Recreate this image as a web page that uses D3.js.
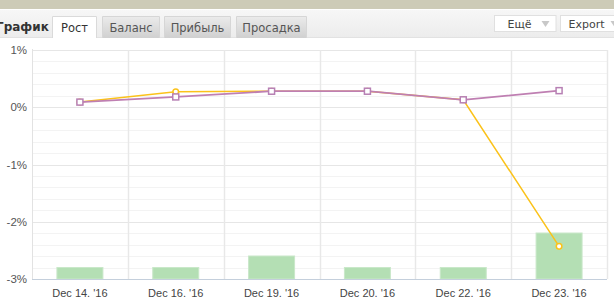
<!DOCTYPE html>
<html><head><meta charset="utf-8">
<script src="https://cdn.jsdelivr.net/npm/d3@7/dist/d3.min.js"></script>
<style>
html,body{margin:0;padding:0;background:#fff;}
svg{display:block;}
</style></head>
<body><svg id="c" width="614" height="298"></svg>
<script>
const categories = ["Dec 14. '16","Dec 16. '16","Dec 19. '16","Dec 20. '16","Dec 22. '16","Dec 23. '16"];
const growthPurple = [0.09, 0.18, 0.28, 0.28, 0.13, 0.29];
const growthYellow = [0.09, 0.27, 0.28, 0.28, 0.13, -2.43];
const barValues = [1, 1, 2, 1, 1, 4];
const yTicks = [1, 0, -1, -2, -3];
const yTickLabels = ["1%", "0%", "-1%", "-2%", "-3%"];
const tabs = ["Рост", "Баланс", "Прибыль", "Просадка"];
const titleText = "График";
const buttons = ["Ещё", "Export"];

(function(){
const svg = d3.select("#c");
const font = "DejaVu Sans, Verdana, sans-serif";
const afont = "Liberation Sans, Arial, sans-serif";

// ---- header ----
const defs = svg.append("defs");
const g1 = defs.append("linearGradient").attr("id","tabg").attr("x1",0).attr("y1",0).attr("x2",0).attr("y2",1);
g1.append("stop").attr("offset","0%").attr("stop-color","#ebebeb");
g1.append("stop").attr("offset","100%").attr("stop-color","#d0d0d0");
const g2 = defs.append("linearGradient").attr("id","barbg").attr("x1",0).attr("y1",0).attr("x2",0).attr("y2",1);
g2.append("stop").attr("offset","0%").attr("stop-color","#f7f7f7");
g2.append("stop").attr("offset","100%").attr("stop-color","#ececec");

svg.append("rect").attr("x",0).attr("y",0).attr("width",614).attr("height",9).attr("fill","#cdcbb7");
svg.append("rect").attr("x",0).attr("y",9).attr("width",614).attr("height",29).attr("fill","url(#barbg)");
svg.append("rect").attr("x",0).attr("y",9).attr("width",614).attr("height",1).attr("fill","#ffffff");
svg.append("line").attr("x1",0).attr("x2",614).attr("y1",37.5).attr("y2",37.5).attr("stroke","#e2e2e2");

svg.append("text").attr("x",-4).attr("y",31).attr("font-family",font).attr("font-size",12)
  .attr("font-weight","bold").attr("fill","#333").text(titleText);

const tabX = [52.5, 102.5, 164.5, 236.5];
const tabW = [44, 57, 66, 70];
tabs.forEach((t,i)=>{
  const active = i===0;
  svg.append("path")
    .attr("d",`M${tabX[i]},38 V16.5 H${tabX[i]+tabW[i]} V38`)
    .attr("fill", active ? "#ffffff" : "url(#tabg)")
    .attr("stroke", active ? "#dadada" : "#d6d6d6");
  svg.append("text").attr("x",tabX[i]+tabW[i]/2).attr("y",32).attr("text-anchor","middle")
    .attr("font-family",font).attr("font-size",11.5).attr("fill", active ? "#333" : "#555").text(t);
});
svg.append("rect").attr("x",53).attr("y",37).attr("width",43).attr("height",2).attr("fill","#fff");

const btnX = [494.5, 560.5], btnW = [61.5, 60];
buttons.forEach((b,i)=>{
  svg.append("rect").attr("x",btnX[i]).attr("y",15.5).attr("width",btnW[i]).attr("height",16)
    .attr("fill","#fff").attr("stroke","#e0e0e0");
  svg.append("text").attr("x",btnX[i]+(i===0?13:8)).attr("y",28).attr("font-family",font).attr("font-size",11)
    .attr("fill","#444").text(b);
  const ax = btnX[i] + (i===0?47:50);
  svg.append("path").attr("d",`M${ax},21 h8 l-4,6 z`).attr("fill","#c8c8c8");
});

// ---- chart ----
const pl = 32, pr = 607, pt = 50, pb = 279;
const x = d3.scaleBand().domain(categories).range([pl, pr]).paddingInner(0).paddingOuter(0);
const y = d3.scaleLinear().domain([-3, 1]).range([pb, pt]);
const yBar = d3.scaleLinear().domain([0, 20]).range([pb, pt - 1]);

const minor = d3.range(-3, 1.0001, 0.2).map(v=>+v.toFixed(1)).filter(v=>!Number.isInteger(v));
svg.append("g").selectAll("line").data(minor).join("line")
  .attr("x1",pl).attr("x2",pr).attr("y1",d=>Math.round(y(d))+0.5).attr("y2",d=>Math.round(y(d))+0.5)
  .attr("stroke","#f3f3f3");
svg.append("g").selectAll("line").data(yTicks).join("line")
  .attr("x1",pl).attr("x2",pr).attr("y1",d=>Math.round(y(d))+0.5).attr("y2",d=>Math.round(y(d))+0.5)
  .attr("stroke","#e6e6e6");
const vx = categories.slice(1).map(c=>x(c)).concat([pr]);
svg.append("g").selectAll("line").data(vx).join("line")
  .attr("x1",d=>Math.round(d)+0.5).attr("x2",d=>Math.round(d)+0.5).attr("y1",pt).attr("y2",pb)
  .attr("stroke","#e8e8e8").attr("stroke-width",1.5);
svg.append("line").attr("x1",pl+0.5).attr("x2",pl+0.5).attr("y1",pt-1).attr("y2",pb)
  .attr("stroke","#e2e2e2");

const yAxis = d3.axisLeft(y).tickValues(yTicks).tickFormat((d,i)=>yTickLabels[i]).tickSize(0).tickPadding(5);
const ya = svg.append("g").attr("transform",`translate(${pl},0)`).call(yAxis);
ya.select(".domain").remove();
ya.selectAll("text").attr("font-family",afont).attr("font-size",11.5).attr("fill","#555");

const bw = 46;
svg.append("g").selectAll("rect").data(barValues).join("rect")
  .attr("x",(d,i)=>x(categories[i])+x.bandwidth()/2-bw/2)
  .attr("y",d=>yBar(d))
  .attr("width",bw).attr("height",d=>pb-yBar(d))
  .attr("fill","#b4dfb4").attr("stroke","#c9e8c9").attr("stroke-width",1);

const xAxis = d3.axisBottom(x).tickSize(0).tickPadding(10);
const xa = svg.append("g").attr("transform",`translate(0,${pb})`).call(xAxis);
xa.select(".domain").attr("stroke","#c4cfdc").attr("d",`M${pl},0.5H${pr}`);
xa.selectAll("text").attr("font-family",afont).attr("font-size",11).attr("fill","#444");

const cx = (i)=>x(categories[i])+x.bandwidth()/2;
const lineGen = d3.line().x((d,i)=>cx(i)).y(d=>y(d));
svg.append("path").datum(growthYellow).attr("d",lineGen).attr("fill","none")
  .attr("stroke","#fbc21a").attr("stroke-width",1.5);
svg.append("g").selectAll("circle").data(growthYellow).join("circle")
  .attr("cx",(d,i)=>cx(i)).attr("cy",d=>y(d)).attr("r",2.8)
  .attr("fill","#fff").attr("stroke","#fbc21a").attr("stroke-width",1.5);
svg.append("path").datum(growthPurple).attr("d",lineGen).attr("fill","none")
  .attr("stroke","#bf7fb2").attr("stroke-width",1.8);
svg.append("g").selectAll("rect").data(growthPurple).join("rect")
  .attr("x",(d,i)=>cx(i)-3).attr("y",d=>y(d)-3).attr("width",6).attr("height",6)
  .attr("fill","#fff").attr("stroke","#b780b4").attr("stroke-width",1.5);
})();
</script></body></html>
